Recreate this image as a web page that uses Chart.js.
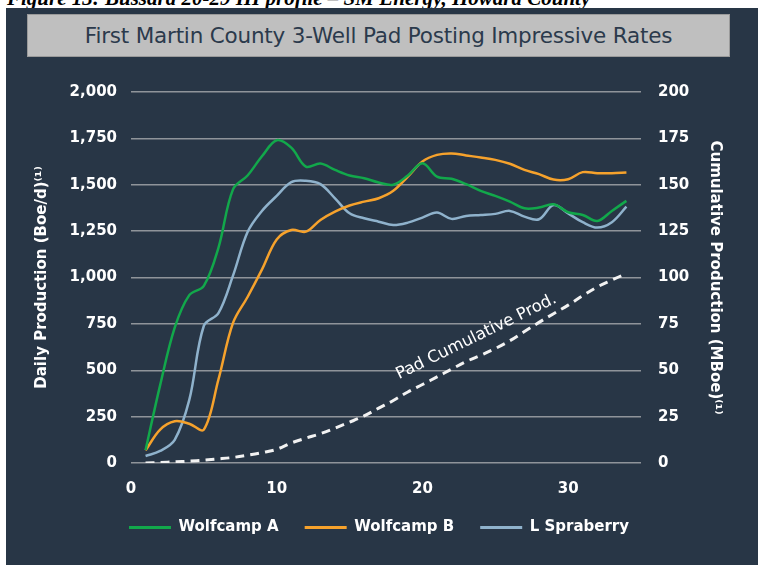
<!DOCTYPE html>
<html>
<head>
<meta charset="utf-8">
<script src="https://cdn.jsdelivr.net/npm/chart.js@4.4.1/dist/chart.umd.min.js"></script>
<style>
body{margin:0;background:#ffffff;width:758px;height:565px;overflow:hidden;position:relative}
.caption{position:absolute;left:7px;top:-12px;font:bold italic 21px "Liberation Serif";line-height:21px;color:#000;white-space:nowrap}
.panel{position:absolute;left:6px;top:8px;width:752px;height:557px;background:#283646}
.title-box{position:absolute;left:27px;top:14px;width:701px;height:41px;background:#bfbfbf;border:1px solid #9a9a9a;
  font:21.5px "DejaVu Sans";color:#2b3a4c;text-align:center;line-height:41px;letter-spacing:-0.2px}
canvas{position:absolute;left:0;top:0}
</style>
</head>
<body>
<div class="caption">Figure 13: Bussard 20-29 HI profile – SM Energy, Howard County</div>
<div class="panel"></div>
<div class="title-box">First Martin County 3-Well Pad Posting Impressive Rates</div>
<canvas id="chart" width="758" height="565"></canvas>
<script>
// days on production
const days = [1, 2, 3, 4, 5, 6, 7, 8, 9, 10, 11, 12, 13, 14, 15, 16, 17,
    18, 19, 20, 21, 22, 23, 24, 25, 26, 27, 28, 29, 30, 31, 32, 33, 34]

// daily production, Boe/d
const wolfcampA = [70, 420, 730, 905, 955, 1160, 1475, 1550, 1655, 1740, 1700, 1598, 1614, 1580, 1550, 1535, 1512,
    1500, 1550, 1616, 1544, 1532, 1503, 1467, 1440, 1409, 1373, 1377, 1395, 1352, 1337, 1305, 1359, 1413]
const wolfcampB = [68, 180, 225, 212, 180, 450, 755, 895, 1045, 1205, 1256, 1247, 1310, 1355, 1388, 1409, 1427,
    1467, 1544, 1625, 1661, 1669, 1658, 1647, 1634, 1613, 1580, 1557, 1528, 1530, 1568, 1562, 1562, 1566]
const lSpraberry = [38, 65, 125, 340, 740, 808, 1010, 1245, 1360, 1440, 1514, 1521, 1503, 1427, 1346, 1319, 1301,
    1283, 1296, 1323, 1350, 1316, 1332, 1337, 1343, 1359, 1328, 1314, 1391, 1346, 1298, 1269, 1298, 1382]

// pad cumulative production, MBoe
const padCumulative = [0, 0.3, 0.6, 1, 1.5, 2.2, 3, 4.2, 5.6, 7.4, 10.8, 13.4, 15.8, 18.8, 22, 25.4, 29.6,
    33.7, 38.3, 42.3, 46.4, 50.6, 54.7, 58.1, 61.7, 65.9, 70.9, 75.8, 80.5, 85.1, 90.2, 94.9, 98.6, 102.2]

const seriesNames = ["Wolfcamp A", "Wolfcamp B", "L Spraberry", "Pad Cumulative Prod."]
const leftTitle = "Daily Production (Boe/d)⁽¹⁾"
const rightTitle = "Cumulative Production (MBoe)⁽¹⁾"

// where the dashed line label sits (day, MBoe)
const labelAt = [23.7, 68]

function points(values){
    var out = []
    for(var i = 0; i < days.length; i++){
        out.push({x: days[i], y: values[i]})
    }
    return out
}

const tickFont = {family: "DejaVu Sans", size: 15, weight: "bold"}
const titleFont = {family: "DejaVu Sans", size: 15, weight: "bold"}

const padLabel = {
    id: "padLabel",
    afterDatasetsDraw(chart){
        const ctx = chart.ctx
        const x = chart.scales.x.getPixelForValue(labelAt[0])
        const y = chart.scales.y1.getPixelForValue(labelAt[1])
        ctx.save()
        ctx.translate(x, y)
        ctx.rotate(-26 * Math.PI / 180)
        ctx.font = '16.5px "DejaVu Sans"'
        ctx.fillStyle = "#ffffff"
        ctx.textAlign = "center"
        ctx.textBaseline = "middle"
        ctx.fillText(seriesNames[3], 0, 0)
        ctx.restore()
    }
}

new Chart(document.getElementById("chart"), {
    type: "line",
    data: {
        datasets: [
            {label: seriesNames[0], data: points(wolfcampA), borderColor: "#12a84b", borderWidth: 2.5, yAxisID: "y"},
            {label: seriesNames[1], data: points(wolfcampB), borderColor: "#f6a22c", borderWidth: 2.5, yAxisID: "y"},
            {label: seriesNames[2], data: points(lSpraberry), borderColor: "#8fb2cc", borderWidth: 2.5, yAxisID: "y"},
            {label: seriesNames[3], data: points(padCumulative), borderColor: "#f2f2f2", borderWidth: 3,
                borderDash: [9, 6], yAxisID: "y1"}
        ]
    },
    options: {
        responsive: false,
        animation: false,
        elements: {
            point: {radius: 0},
            line: {tension: 0.35, fill: false}
        },
        layout: {padding: {top: 92, left: 0, right: 0, bottom: 20}},
        scales: {
            x: {
                type: "linear",
                min: 0,
                max: 35,
                grid: {display: false, drawTicks: false},
                border: {display: false},
                ticks: {stepSize: 10, color: "#ffffff", font: tickFont, padding: 17, maxRotation: 0},
                afterBuildTicks: axis => { axis.ticks = axis.ticks.filter(t => t.value % 10 === 0) },
                afterFit: scale => { scale.height = 31 }
            },
            y: {
                position: "left",
                min: 0,
                max: 2000,
                grid: {color: "#8f949a", lineWidth: 1.5, drawTicks: false},
                border: {display: false},
                ticks: {
                    stepSize: 250, color: "#ffffff", font: tickFont, padding: 14,
                    callback: v => v.toLocaleString("en-US")
                },
                title: {display: true, text: leftTitle, color: "#ffffff", font: titleFont, padding: {top: 33}},
                afterFit: scale => { scale.width = 131 }
            },
            y1: {
                position: "right",
                min: 0,
                max: 200,
                grid: {display: false, drawTicks: false},
                border: {display: false},
                ticks: {stepSize: 25, color: "#ffffff", font: tickFont, padding: 17},
                title: {display: true, text: rightTitle, color: "#ffffff", font: titleFont, padding: {top: 34}},
                afterFit: scale => { scale.width = 117 }
            }
        },
        plugins: {
            tooltip: {enabled: false},
            legend: {
                position: "bottom",
                labels: {
                    boxWidth: 42,
                    boxHeight: 3,
                    padding: 26,
                    color: "#ffffff",
                    font: {family: "DejaVu Sans", size: 15, weight: "bold"},
                    generateLabels: chart => chart.data.datasets.slice(0, 3).map((ds, i) => ({
                        text: ds.label,
                        fillStyle: ds.borderColor,
                        strokeStyle: ds.borderColor,
                        lineWidth: 0,
                        fontColor: "#ffffff",
                        hidden: false,
                        datasetIndex: i
                    }))
                }
            }
        }
    },
    plugins: [padLabel]
})
</script>
</body>
</html>
